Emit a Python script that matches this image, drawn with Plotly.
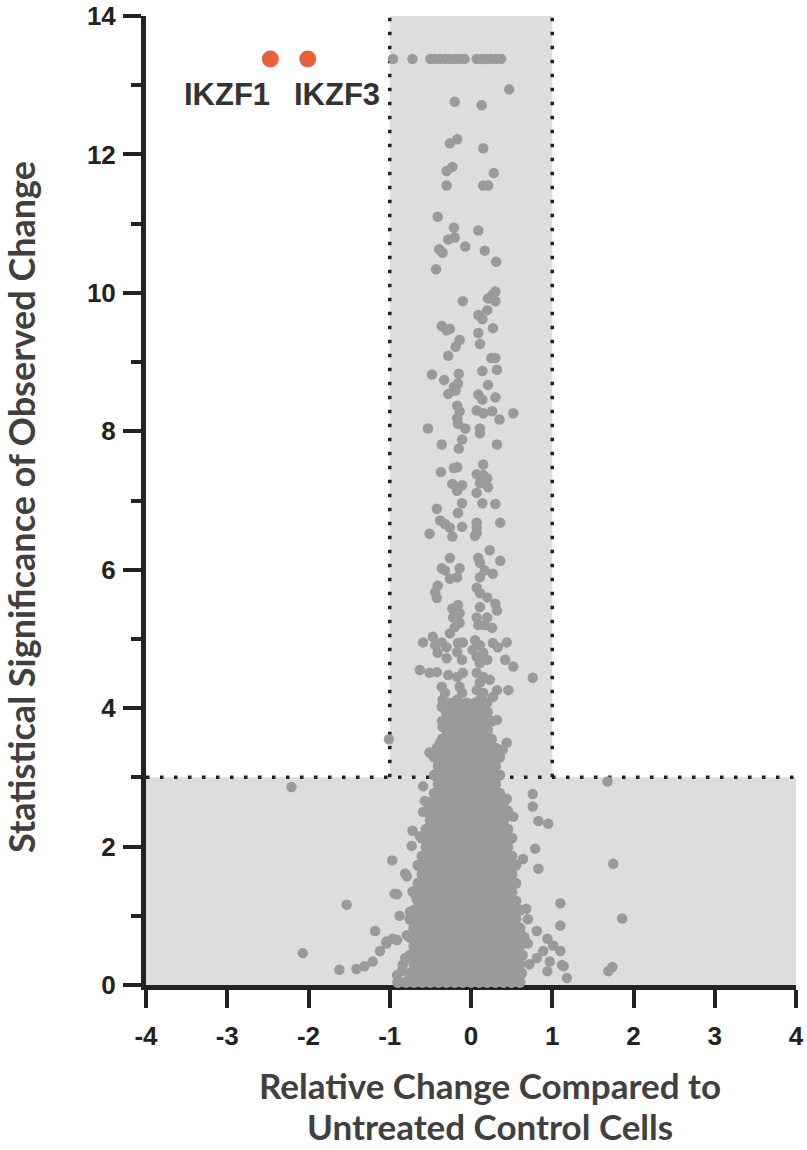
# %% import

import plotly.graph_objects as go

# %% data

hit_genes = ["IKZF1", "IKZF3"]
hit_x = [-2.47, -2.01]
hit_y = [13.38, 13.38]

# proteins pinned at the top of the y range
capped_x = [-0.96, -0.72, -0.5, -0.44, -0.38, -0.32, -0.26, -0.2, -0.14, -0.08,
            0.07, 0.13, 0.19, 0.25, 0.31, 0.37]
capped_y = [13.38] * len(capped_x)

# scattered proteins above the dense core
upper_pts = [
    (0.47, 12.94), (-0.2, 12.76), (0.13, 12.71), (-0.26, 12.16), (-0.17, 12.22), (0.15, 12.09),
    (-0.3, 11.76), (-0.23, 11.82), (0.28, 11.73), (-0.3, 11.55), (0.15, 11.55), (0.21, 11.55),
    (-0.41, 11.1), (-0.21, 10.94), (0.09, 10.9), (-0.28, 10.77), (-0.2, 10.8), (-0.07, 10.67),
    (-0.39, 10.63), (-0.35, 10.58), (0.17, 10.61), (0.31, 10.45), (-0.43, 10.34),
    (0.3, 10.02), (0.26, 9.97), (0.21, 9.92), (0.3, 9.88), (-0.1, 9.88), (0.2, 9.75), (0.09, 9.68),
    (0.14, 9.62), (-0.36, 9.52), (-0.26, 9.48), (-0.3, 9.46), (0.27, 9.49), (0.09, 9.42), (0.11, 9.26),
    (-0.14, 9.32), (-0.19, 9.22), (0.25, 9.06), (0.3, 9.06), (-0.28, 9.09), (0.32, 8.89), (0.14, 8.87),
    (-0.15, 8.83), (-0.48, 8.82), (-0.33, 8.74), (-0.16, 8.69), (-0.21, 8.64), (-0.19, 8.59),
    (-0.28, 8.54), (0.21, 8.67), (0.09, 8.53), (0.14, 8.46), (0.3, 8.49), (-0.17, 8.37), (-0.14, 8.29),
    (0.07, 8.3), (0.26, 8.29), (0.15, 8.26), (0.52, 8.26), (0.35, 8.17), (-0.17, 8.19), (-0.16, 8.11),
    (-0.07, 8.04), (-0.53, 8.04), (0.11, 8.04), (0.11, 7.97), (-0.11, 7.88), (-0.15, 7.75),
    (-0.36, 7.81), (0.32, 7.81), (-0.17, 7.48), (-0.21, 7.47), (0.15, 7.52), (-0.37, 7.41),
    (0.07, 7.38), (0.15, 7.37), (0.2, 7.32), (0.11, 7.25), (-0.23, 7.24), (-0.11, 7.22), (-0.17, 7.14),
    (0.21, 7.19), (0.07, 7.11), (-0.11, 6.96), (0.14, 6.96), (0.3, 6.95), (-0.42, 6.88), (-0.16, 6.82),
    (-0.38, 6.71), (-0.32, 6.66), (-0.26, 6.61), (-0.11, 6.62), (0.07, 6.68), (0.07, 6.61), (0.07, 6.53),
    (0.05, 6.49), (0.36, 6.68), (-0.51, 6.52), (-0.23, 6.48), (0.23, 6.28), (-0.26, 6.17), (0.09, 6.17),
    (0.11, 6.1), (0.36, 6.13), (-0.36, 6.02), (-0.32, 5.99), (-0.14, 6.02), (0.17, 5.99), (0.27, 5.94),
    (-0.17, 5.89), (-0.26, 5.87), (0.11, 5.89), (-0.41, 5.77), (-0.44, 5.67), (-0.42, 5.59), (0.07, 5.74),
    (0.11, 5.66), (0.2, 5.6), (-0.16, 5.49), (-0.23, 5.44), (-0.14, 5.37), (-0.22, 5.31), (0.3, 5.51),
    (0.32, 5.41), (0.11, 5.46), (0.07, 5.31), (0.2, 5.31), (-0.14, 5.23), (-0.2, 5.17), (0.09, 5.2),
    (0.17, 5.2), (0.26, 5.16), (-0.26, 5.08), (-0.59, 4.95), (-0.47, 5.03), (-0.36, 4.95), (-0.3, 4.88),
    (-0.44, 4.91), (-0.16, 4.94), (-0.1, 4.95), (0.05, 4.98), (0.11, 4.91), (0.02, 4.84), (0.27, 4.94),
    (0.33, 4.88), (0.44, 4.95), (-0.41, 4.8), (-0.3, 4.72), (-0.17, 4.81), (-0.11, 4.7), (0.07, 4.74),
    (0.15, 4.8), (0.11, 4.65), (0.2, 4.7), (0.42, 4.7), (0.52, 4.6), (-0.63, 4.55), (-0.51, 4.51),
    (-0.42, 4.52), (-0.28, 4.48), (-0.17, 4.45), (-0.1, 4.51), (0.07, 4.51), (0.15, 4.45), (0.23, 4.41),
    (0.11, 4.37), (0.76, 4.44), (-0.36, 4.31), (-0.32, 4.22), (-0.35, 4.12), (-0.36, 4.02), (-0.14, 4.31),
    (-0.11, 4.22), (-0.17, 4.12), (-0.1, 4.02), (-0.14, 3.93), (0.07, 4.26), (0.15, 4.22), (0.11, 4.12),
    (0.2, 4.08), (0.07, 3.98), (0.15, 3.93), (0.32, 4.26), (0.46, 4.26), (0.27, 4.16), (-0.35, 3.73),
    (-0.3, 3.83), (-0.51, 3.36), (-0.42, 3.43), (-0.35, 3.3), (-0.26, 3.4), (-0.38, 3.5), (0.32, 3.83),
    (0.44, 3.5), (0.39, 3.4), (-1.01, 3.55),
]

# scattered proteins around the foot of the core
edge_pts = [
    (-2.21, 2.86), (1.68, 2.94), (0.76, 2.76), (0.76, 2.58), (0.44, 2.69), (0.83, 2.37), (0.95, 2.33),
    (0.52, 2.43), (0.79, 1.97), (0.83, 1.68), (0.64, 1.82), (1.75, 1.75), (1.1, 1.18), (1.1, 0.86),
    (1.86, 0.96), (-0.59, 2.87), (-0.57, 2.66), (-0.59, 2.5), (-0.72, 2.23), (-0.63, 2.15),
    (-0.73, 2.01), (-0.97, 1.8), (-0.6, 1.72), (-0.81, 1.61), (-0.79, 1.57), (-0.94, 1.32),
    (-0.91, 1.31), (-0.72, 1.35), (-0.67, 1.25), (-0.88, 1.0), (-0.75, 1.06), (-1.53, 1.16),
    (-1.18, 0.78), (-1.04, 0.63), (-0.91, 0.65), (-0.79, 0.72), (-0.96, 0.67), (-1.04, 0.6),
    (-1.12, 0.49), (-0.81, 0.39), (-0.85, 0.2), (-0.91, 0.14), (-0.84, 0.29), (-0.79, 0.39),
    (-2.07, 0.46), (-1.62, 0.22), (-1.41, 0.23), (-1.31, 0.27), (-1.21, 0.34), (0.6, 0.78),
    (0.81, 0.78), (0.94, 0.67), (1.01, 0.57), (0.89, 0.49), (1.1, 0.49), (0.81, 0.39), (0.97, 0.34),
    (1.12, 0.29), (0.94, 0.2), (1.18, 0.1), (1.14, 0.27), (1.69, 0.2), (1.74, 0.26), (0.7, 0.6),
    (0.72, 0.3), (0.68, 1.1), (0.7, 0.95),
]

# dense core near zero change: (y, [x values along that row])
core_rows = [
    (0.04, [-0.9, -0.8, -0.7, -0.6, -0.5, -0.4, -0.3, -0.2, -0.1, 0.0, 0.1, 0.2, 0.3, 0.4, 0.5, 0.6]),
    (0.17, [-0.75, -0.65, -0.55, -0.45, -0.35, -0.25, -0.15, -0.05, 0.05, 0.15, 0.25, 0.35, 0.45, 0.55, 0.62]),
    (0.30, [-0.7, -0.6, -0.5, -0.4, -0.3, -0.2, -0.1, 0.0, 0.1, 0.2, 0.3, 0.4, 0.5, 0.6]),
    (0.43, [-0.75, -0.65, -0.55, -0.45, -0.35, -0.25, -0.15, -0.05, 0.05, 0.15, 0.25, 0.35, 0.45, 0.55, 0.63]),
    (0.56, [-0.7, -0.6, -0.5, -0.4, -0.3, -0.2, -0.1, 0.0, 0.1, 0.2, 0.3, 0.4, 0.5, 0.6]),
    (0.69, [-0.75, -0.65, -0.55, -0.45, -0.35, -0.25, -0.15, -0.05, 0.05, 0.15, 0.25, 0.35, 0.45, 0.55, 0.65]),
    (0.82, [-0.7, -0.6, -0.5, -0.4, -0.3, -0.2, -0.1, 0.0, 0.1, 0.2, 0.3, 0.4, 0.5, 0.6]),
    (0.95, [-0.75, -0.65, -0.55, -0.45, -0.35, -0.25, -0.15, -0.05, 0.05, 0.15, 0.25, 0.35, 0.45, 0.55]),
    (1.08, [-0.7, -0.6, -0.5, -0.4, -0.3, -0.2, -0.1, 0.0, 0.1, 0.2, 0.3, 0.4, 0.5, 0.6]),
    (1.21, [-0.65, -0.55, -0.45, -0.35, -0.25, -0.15, -0.05, 0.05, 0.15, 0.25, 0.35, 0.45, 0.55]),
    (1.34, [-0.7, -0.6, -0.5, -0.4, -0.3, -0.2, -0.1, 0.0, 0.1, 0.2, 0.3, 0.4, 0.5]),
    (1.47, [-0.65, -0.55, -0.45, -0.35, -0.25, -0.15, -0.05, 0.05, 0.15, 0.25, 0.35, 0.45, 0.55]),
    (1.60, [-0.6, -0.5, -0.4, -0.3, -0.2, -0.1, 0.0, 0.1, 0.2, 0.3, 0.4, 0.5]),
    (1.73, [-0.65, -0.55, -0.45, -0.35, -0.25, -0.15, -0.05, 0.05, 0.15, 0.25, 0.35, 0.45, 0.55]),
    (1.86, [-0.6, -0.5, -0.4, -0.3, -0.2, -0.1, 0.0, 0.1, 0.2, 0.3, 0.4, 0.5]),
    (1.99, [-0.55, -0.45, -0.35, -0.25, -0.15, -0.05, 0.05, 0.15, 0.25, 0.35, 0.45]),
    (2.12, [-0.6, -0.5, -0.4, -0.3, -0.2, -0.1, 0.0, 0.1, 0.2, 0.3, 0.4, 0.5]),
    (2.25, [-0.55, -0.45, -0.35, -0.25, -0.15, -0.05, 0.05, 0.15, 0.25, 0.35, 0.45]),
    (2.38, [-0.5, -0.4, -0.3, -0.2, -0.1, 0.0, 0.1, 0.2, 0.3, 0.4]),
    (2.51, [-0.55, -0.45, -0.35, -0.25, -0.15, -0.05, 0.05, 0.15, 0.25, 0.35, 0.45]),
    (2.64, [-0.5, -0.4, -0.3, -0.2, -0.1, 0.0, 0.1, 0.2, 0.3, 0.4]),
    (2.77, [-0.45, -0.35, -0.25, -0.15, -0.05, 0.05, 0.15, 0.25, 0.35]),
    (2.90, [-0.4, -0.3, -0.2, -0.1, 0.0, 0.1, 0.2, 0.3]),
    (3.03, [-0.45, -0.35, -0.25, -0.15, -0.05, 0.05, 0.15, 0.25, 0.35]),
    (3.16, [-0.4, -0.3, -0.2, -0.1, 0.0, 0.1, 0.2, 0.3]),
    (3.29, [-0.45, -0.35, -0.25, -0.15, -0.05, 0.05, 0.15, 0.25, 0.35]),
    (3.42, [-0.4, -0.3, -0.2, -0.1, 0.0, 0.1, 0.2, 0.3]),
    (3.55, [-0.35, -0.25, -0.15, -0.05, 0.05, 0.15, 0.25]),
    (3.68, [-0.3, -0.2, -0.1, 0.0, 0.1, 0.2]),
    (3.81, [-0.35, -0.25, -0.15, -0.05, 0.05, 0.15, 0.25]),
    (3.94, [-0.3, -0.2, -0.1, 0.0, 0.1, 0.2]),
    (4.07, [-0.25, -0.15, -0.05, 0.05, 0.15]),
]

x_ticks = [-4, -3, -2, -1, 0, 1, 2, 3, 4]
y_ticks = [0, 2, 4, 6, 8, 10, 12, 14]

x_title_lines = ["Relative Change Compared to", "Untreated Control Cells"]
y_title = "Statistical Significance of Observed Change"

# %% assemble

sc_x = capped_x + [p[0] for p in upper_pts] + [p[0] for p in edge_pts]
sc_y = capped_y + [p[1] for p in upper_pts] + [p[1] for p in edge_pts]
core_x, core_y = [], []
for yy, xs in core_rows:
    core_x += xs
    core_y += [yy] * len(xs)

GREY = "#9a9a9a"
SHADE = "#dddddd"
INK = "#222222"
W, H = 807, 1150
ML, MR, MT, MB = 146, 11, 16, 165
PW, PH = W - ML - MR, H - MT - MB

fig = go.Figure()

fig.add_trace(go.Scatter(
    x=core_x, y=core_y, mode="markers", cliponaxis=False,
    marker=dict(size=11.5, color=GREY, line=dict(width=0)),
    hoverinfo="skip", showlegend=False,
))
fig.add_trace(go.Scatter(
    x=sc_x, y=sc_y, mode="markers", cliponaxis=False,
    marker=dict(size=10.5, color=GREY, line=dict(width=0)),
    hoverinfo="skip", showlegend=False,
))
fig.add_trace(go.Scatter(
    x=hit_x, y=hit_y, mode="markers", cliponaxis=False,
    marker=dict(size=17, color="#e8603c", line=dict(width=0)),
    text=hit_genes, showlegend=False,
))

# shaded "not significant" regions + dotted thresholds
fig.add_shape(type="rect", x0=-1, x1=1, y0=3, y1=14, fillcolor=SHADE, line_width=0, layer="below")
fig.add_shape(type="rect", x0=-4, x1=4, y0=0, y1=3, fillcolor=SHADE, line_width=0, layer="below")
dot = dict(color="#222222", width=3.5, dash="3.5px,10.5px")
fig.add_shape(type="line", x0=-1, x1=-1, y0=3, y1=14, line=dot, layer="below")
fig.add_shape(type="line", x0=1, x1=1, y0=3, y1=14, line=dot, layer="below")
fig.add_shape(type="line", x0=-4, x1=4, y0=3, y1=3, line=dot, layer="below")

# gene labels
shifts = [(-43, -36), (29, -36)]
for g, gx, gy, (dx, dy) in zip(hit_genes, hit_x, hit_y, shifts):
    fig.add_annotation(
        x=gx, y=gy, text=g, showarrow=False, xshift=dx, yshift=dy,
        font=dict(family="Liberation Sans", size=31, color="#333333", weight="bold"),
    )

# axis titles (pixel positions converted to paper coords)
title_font = dict(family="Lato", size=35, color="#404040", weight="bold")
for line, cy in zip(x_title_lines, [1085, 1126]):
    fig.add_annotation(
        x=(490 - ML) / PW, y=(H - MB - cy) / PH, xref="paper", yref="paper",
        xanchor="center", yanchor="middle", text=line, showarrow=False, font=title_font,
    )
fig.add_annotation(
    x=(21 - ML) / PW, y=(H - MB - 507) / PH, xref="paper", yref="paper",
    xanchor="center", yanchor="middle", text=y_title, textangle=-90, showarrow=False,
    font=dict(family="Lato", size=36, color="#404040", weight="bold"),
)

tickfont = dict(family="Liberation Sans", size=26, color=INK, weight="bold")

fig.update_xaxes(
    range=[-4, 4], tickvals=x_ticks, ticktext=[str(v) for v in x_ticks],
    showgrid=False, zeroline=False, showline=True, linewidth=5, linecolor=INK,
    ticks="outside", ticklen=18, tickwidth=4, tickcolor=INK, tickfont=tickfont,
    ticklabelstandoff=6, ticklabeloverflow="allow", layer="below traces", automargin=False,
)
fig.update_yaxes(
    range=[0, 14], tickvals=y_ticks, ticktext=[str(v) for v in y_ticks],
    showgrid=False, zeroline=False, showline=True, linewidth=5, linecolor=INK,
    ticks="outside", ticklen=18, tickwidth=4, tickcolor=INK, tickfont=tickfont,
    minor=dict(dtick=1, tick0=0, ticks="outside", ticklen=10, tickwidth=4, tickcolor=INK, showgrid=False),
    ticklabelstandoff=2, ticklabeloverflow="allow", layer="below traces", automargin=False,
)

fig.update_layout(
    width=W, height=H,
    margin=dict(l=ML, r=MR, t=MT, b=MB, autoexpand=False),
    plot_bgcolor="white", paper_bgcolor="white",
)

fig.write_html(
    "out.html",
    config={"displayModeBar": False},
    post_script="document.body.style.margin='0px';",
)
